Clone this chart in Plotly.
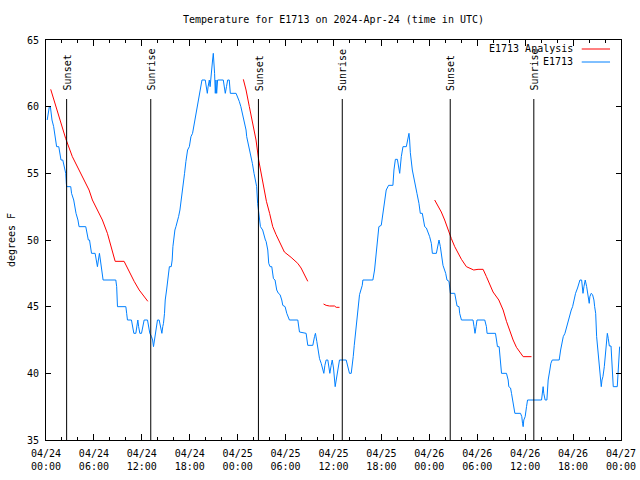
import pandas as pd
import plotly.graph_objects as go

BASE = pd.Timestamp("2024-04-24 00:00")

# E1713 observed temperature: hours after 2024-04-24 00:00 UTC, degrees F
obs_hours = [0.15, 0.3, 0.42, 0.55, 0.65, 0.75, 0.96, 1.1, 1.21, 1.33, 1.6, 1.72, 1.88, 2.1, 2.26, 2.47, 2.55, 2.6,
             3.1, 3.2, 3.47, 3.6, 3.76, 4.0, 4.14, 4.98, 5.18, 5.3, 5.45, 5.6, 5.7, 6.15, 6.3, 6.44, 6.56, 6.69,
             6.81, 6.95, 7.15, 8.74, 8.85, 8.95, 10.0, 10.1, 10.2, 10.7, 10.85, 11.0, 11.25, 11.4, 11.5, 11.6,
             11.75, 11.96, 12.15, 12.29, 12.71, 12.85, 13.0, 13.21, 13.35, 13.46, 13.6, 13.71, 13.85, 13.96,
             14.17, 14.35, 14.51, 14.62, 14.71, 14.84, 14.93, 15.1, 15.22, 15.34, 15.45, 15.68, 15.8, 15.89,
             15.97, 16.14, 16.27, 16.43, 16.6, 16.77, 16.95, 17.18, 17.35, 17.52, 17.73, 17.95, 18.15, 18.35,
             18.57, 18.8, 18.98, 19.15, 19.32, 19.53, 19.94, 20.05, 20.2, 20.3, 20.45, 20.55, 20.65, 20.75,
             20.86, 20.95, 21.03, 21.11, 21.2, 21.28, 21.37, 21.49, 22.2, 22.35, 22.45, 22.6, 22.75, 22.95,
             23.08, 23.8, 24.0, 24.2, 24.4, 24.5, 24.63, 24.8, 25.05, 25.13, 25.3, 25.46, 25.55, 25.7, 25.84,
             26.05, 26.22, 26.38, 26.5, 26.6, 26.72, 26.85, 27.13, 27.3, 27.47, 27.56, 27.77, 27.89, 28.06,
             28.27, 28.48, 28.68, 28.89, 29.1, 29.31, 29.52, 29.65, 29.94, 30.15, 30.48, 31.53, 31.74, 32.57,
             32.78, 33.41, 33.62, 33.74, 33.91, 34.08, 34.25, 34.46, 34.66, 34.79, 34.92, 35.08, 35.29, 35.42,
             35.54, 35.71, 35.84, 36.0, 36.13, 36.21, 36.34, 36.46, 36.63, 36.75, 37.59, 37.8, 38.0, 38.22,
             38.35, 38.47, 38.6, 38.72, 38.85, 38.97, 39.14, 39.26, 39.43, 39.6, 39.68, 40.93, 41.14, 41.27,
             41.4, 41.52, 41.68, 41.98, 42.1, 42.27, 42.44, 42.6, 42.9, 43.44, 43.57, 43.75, 44.0, 44.16,
             44.29, 44.49, 44.7, 45.12, 45.33, 45.45, 45.53, 45.62, 45.87, 46.16, 46.45, 46.7, 46.87, 47.12,
             47.42, 47.63, 48.04, 48.25, 48.38, 48.88, 49.0, 49.21, 49.38, 49.51, 49.71, 50.05, 50.21, 50.46,
             50.55, 50.64, 51.18, 51.3, 51.47, 51.72, 51.8, 52.02, 53.47, 53.6, 53.72, 53.85, 53.97, 54.94,
             55.15, 55.23, 56.28, 56.41, 56.53, 56.74, 56.82, 56.95, 57.04, 57.66, 57.87, 57.95, 58.17, 58.29,
             58.42, 58.58, 58.71, 59.42, 59.58, 59.67, 59.75, 59.83, 60.0, 60.17, 60.3, 62.05, 62.17, 62.25,
             62.33, 62.5, 62.72, 62.88, 63.09, 63.22, 63.39, 64.26, 64.44, 64.61, 64.77, 64.98, 65.19, 65.39,
             65.6, 65.77, 65.94, 66.1, 66.31, 66.56, 66.73, 66.86, 67.07, 67.2, 67.24, 67.36, 67.52, 67.7,
             67.82, 67.95, 68.02, 68.1, 68.27, 68.44, 68.61, 68.7, 68.83, 68.95, 69.15, 69.24, 69.37, 69.49,
             69.53, 69.62, 69.74, 69.91, 70.08, 70.2, 70.29, 70.41, 70.54, 70.75, 70.87, 70.95, 71.03, 71.53,
             71.66, 71.83]
obs_temp = [59.0, 59.5, 60.0, 60.0, 59.5, 59.0, 58.5, 58.0, 57.5, 57.0, 57.0, 56.5, 56.0, 56.0, 55.5, 55.0, 54.2, 54.0,
            54.0, 53.5, 53.0, 52.5, 52.0, 51.5, 51.0, 51.0, 50.25, 50.0, 50.0, 49.25, 49.0, 49.0, 48.5, 48.0, 48.5, 49.0,
            48.5, 48.0, 47.0, 47.0, 46.5, 45.0, 45.0, 44.5, 44.0, 44.0, 43.5, 43.0, 43.0, 43.5, 44.0, 43.5,
            43.0, 43.0, 43.5, 44.0, 44.0, 43.5, 43.0, 42.75, 42.5, 42.0, 42.5, 43.0, 43.5, 44.0,
            44.0, 43.5, 43.0, 43.5, 43.75, 44.5, 45.5, 46.25, 47.0, 47.75, 48.0, 48.0, 48.5, 49.5,
            50.0, 50.75, 51.0, 51.5, 51.75, 52.25, 53.0, 54.25, 55.0, 55.9, 56.75, 57.0, 57.75, 58.0,
            58.75, 59.5, 60.25, 61.0, 61.5, 62.0, 62.0, 61.5, 61.0, 61.5, 62.0, 61.5, 62.0, 62.5,
            63.5, 64.0, 63.5, 62.5, 61.0, 62.0, 61.0, 62.0, 62.0, 61.5, 61.0, 61.5, 62.0, 62.0,
            61.0, 61.0, 60.75, 60.4, 60.0, 59.75, 59.25, 59.0, 58.25, 57.75, 57.25, 57.0, 56.75, 56.25, 55.75,
            55.0, 54.5, 54.0, 52.75, 52.25, 51.75, 51.0, 50.75, 50.25, 50.0, 49.9, 49.25, 48.25, 48.0,
            48.0, 47.1, 47.0, 46.25, 46.0, 45.9, 45.5, 45.1, 45.0, 44.5, 44.0, 44.0, 43.1, 43.0,
            42.1, 42.1, 42.75, 43.0, 42.4, 41.75, 41.1, 40.75, 40.25, 40.0, 40.6, 41.0, 41.0, 40.5,
            40.0, 40.6, 41.0, 40.4, 39.5, 39.0, 39.5, 40.0, 40.6, 41.0, 41.0, 40.5, 40.0, 40.0,
            40.5, 41.25, 42.1, 42.9, 43.5, 44.25, 45.25, 45.9, 46.25, 46.6, 47.0, 47.0, 47.75, 48.6,
            49.25, 50.5, 51.0, 51.1, 51.6, 52.25, 52.75, 53.75, 54.1, 54.1, 55.25, 56.05, 56.05, 55.5,
            55.0, 56.25, 57.0, 57.0, 57.55, 58.0, 57.5, 56.55, 55.25, 54.25, 53.5, 52.75, 52.0, 52.0,
            51.0, 50.9, 50.25, 49.75, 49.0, 49.0, 49.5, 50.0, 49.5, 48.75, 48.1, 47.5, 47.0, 46.9,
            46.25, 46.0, 46.0, 45.6, 45.05, 45.0, 44.5, 44.0, 44.0, 43.5, 43.0, 43.5, 44.0, 44.0,
            43.5, 43.0, 43.0, 42.5, 42.0, 42.0, 41.5, 40.5, 40.0, 40.0, 39.5, 39.0, 38.9, 38.5,
            38.0, 37.5, 37.0, 37.0, 36.75, 36.25, 36.0, 36.5, 36.75, 37.5, 38.0, 38.0, 38.5, 39.0,
            38.5, 38.0, 38.0, 39.5, 40.25, 40.75, 41.0, 41.0, 41.75, 42.25, 42.75, 43.0, 43.5, 43.9,
            44.25, 44.75, 45.0, 45.5, 46.0, 46.4, 46.75, 47.0, 47.0, 46.5, 46.0, 46.5, 47.0, 46.5,
            46.0, 45.5, 45.25, 45.75, 46.0, 45.9, 45.5, 45.0, 44.5, 42.75, 41.5, 40.6, 39.75, 39.1,
            39.0, 39.5, 39.75, 40.5, 41.4, 42.25, 43.0, 42.6, 42.05, 42.05, 41.0, 39.75, 39.0, 39.0,
            40.0, 42.0]

# E1713 Analysis: segments separated by gaps (None)
ana_hours = [0.59, 2.47, 3.3, 5.39, 5.81, 6.44, 7.06, 7.69, 8.11, 8.66, 9.78, 10.41, 11.04, 11.67, 12.29, 12.75, None,
             24.71, 25.05, 25.46, 25.88, 26.3, 26.63, 27.14, 27.6, 28.0, 28.39, 28.81, 29.2, 29.85, 30.69, 31.52,
             31.94, 32.36, 32.78, None,
             34.75, 35.08, 35.5, 36.13, 36.34, 36.75, None,
             48.67, 49.08, 49.5, 49.92, 50.34, 50.76, 51.18, 51.59, 52.02, 52.64, 53.06, 53.56, 54.1, 54.73,
             55.15, 55.57, 55.98, 56.7, 57.24, 57.66, 58.08, 58.49, 58.91, 59.33, 59.75, 60.79]
ana_temp = [61.3, 57.6, 56.25, 53.75, 53.0, 52.25, 51.5, 50.5, 49.6, 48.4, 48.4, 47.6, 46.9, 46.25, 45.75, 45.4, None,
            62.05, 61.25, 60.0, 58.75, 57.5, 56.0, 54.25, 52.9, 52.0, 51.0, 50.4, 49.9, 49.1, 48.7, 48.25,
            47.9, 47.4, 46.9, None,
            45.2, 45.1, 45.05, 45.05, 44.95, 44.95, None,
            53.0, 52.6, 52.1, 51.5, 50.75, 50.1, 49.5, 49.0, 48.55, 48.0, 47.9, 47.75, 47.8, 47.8,
            47.25, 46.6, 46.1, 45.5, 44.75, 43.9, 43.1, 42.5, 41.95, 41.55, 41.25, 41.25]

# Sun events (UTC)
sun_times = ["2024-04-24 02:35", "2024-04-24 13:07", "2024-04-25 02:36",
             "2024-04-25 13:06", "2024-04-26 02:37", "2024-04-26 13:05"]
sun_labels = ["Sunset", "Sunrise", "Sunset", "Sunrise", "Sunset", "Sunrise"]

series_names = ["E1713 Analysis", "E1713"]
series_colors = ["#ff0000", "#0080ff"]

FONT = "DejaVu Sans Mono"


def to_time(hours):
    return [None if h is None else BASE + pd.Timedelta(hours=h) for h in hours]


fig = go.Figure()
fig.add_trace(go.Scatter(x=to_time(ana_hours), y=ana_temp, mode="lines", name=series_names[0],
                         line=dict(color=series_colors[0], width=1), connectgaps=False, showlegend=False))
fig.add_trace(go.Scatter(x=to_time(obs_hours), y=obs_temp, mode="lines", name=series_names[1],
                         line=dict(color=series_colors[1], width=1), showlegend=False))

for t, lab in zip(sun_times, sun_labels):
    fig.add_shape(type="line", xref="x", yref="y domain", x0=t, x1=t, y0=0, y1=0.8525,
                  line=dict(color="black", width=1))
    fig.add_annotation(x=t, y=0.868, xref="x", yref="y domain", text=lab, textangle=-90,
                       showarrow=False, xanchor="center", yanchor="bottom", xshift=1,
                       font=dict(family=FONT, size=10, color="black"))

# legend (text left of line sample, gnuplot style)
for i, (nm, col) in enumerate(zip(series_names, series_colors)):
    yp = 0.9775 - i * 0.0325
    fig.add_annotation(x=0.9195, y=yp, xref="paper", yref="paper", text=nm, showarrow=False,
                       xanchor="right", yanchor="middle", font=dict(family=FONT, size=10, color="black"))
    fig.add_shape(type="line", xref="paper", yref="paper", x0=0.9317, x1=0.9809, y0=yp, y1=yp,
                  line=dict(color=col, width=1))

fig.update_layout(
    width=640, height=480,
    margin=dict(l=46, r=19, t=40, b=40),
    paper_bgcolor="white", plot_bgcolor="white",
    font=dict(family=FONT, size=10, color="black"),
    title=dict(text="Temperature for E1713 on 2024-Apr-24 (time in UTC)", x=(46 + 287.5) / 640,
               xanchor="center", y=1 - 19 / 480, yanchor="middle",
               font=dict(family=FONT, size=10, color="black")),
)
fig.update_xaxes(type="date", range=["2024-04-24 00:00", "2024-04-27 00:00"], automargin=False,
                 tick0="2024-04-24 00:00", dtick=6 * 3600 * 1000, tickformat="%m/%d<br>%H:%M",
                 ticks="inside", ticklen=6, tickcolor="black", showline=True, linecolor="black",
                 linewidth=1, mirror="allticks", showgrid=False, zeroline=False, ticklabelstandoff=4,
                 minor=dict(dtick=2 * 3600 * 1000, ticks="inside", ticklen=3, tickcolor="black", showgrid=False),
                 tickfont=dict(family=FONT, size=10))
fig.update_yaxes(range=[35, 65], dtick=5, ticks="inside", ticklen=5, tickcolor="black", automargin=False,
                 showline=True, linecolor="black", linewidth=1, mirror="allticks", showgrid=False,
                 zeroline=False, ticklabelstandoff=4,
                 title=dict(text="degrees F", standoff=9, font=dict(family=FONT, size=10)),
                 tickfont=dict(family=FONT, size=10))

fig.write_html("out.html", config={"displayModeBar": False},
               post_script="document.body.style.margin='0';")
